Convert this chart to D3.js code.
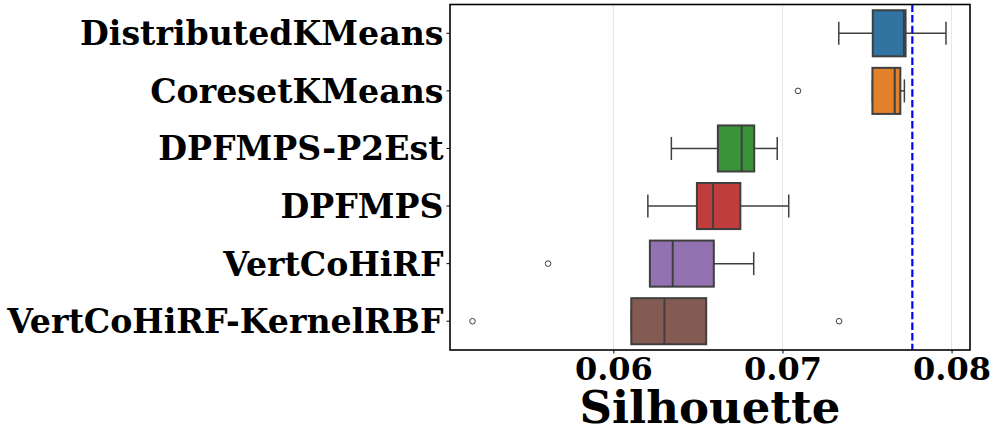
<!DOCTYPE html>
<html>
<head>
<meta charset="utf-8">
<script src="https://cdn.jsdelivr.net/npm/d3@7"></script>
<style>
  html, body { margin: 0; padding: 0; background: #fff; }
  svg { display: block; }
  text { font-family: "DejaVu Serif", serif; font-weight: bold; fill: #000; }
</style>
</head>
<body>
<svg id="chart" width="997" height="438"></svg>
<script>
const categories = ["DistributedKMeans", "CoresetKMeans", "DPFMPS-P2Est", "DPFMPS", "VertCoHiRF", "VertCoHiRF-KernelRBF"];
const whiskerLow  = [0.07333, 0.07532, 0.06343, 0.06204, 0.06216, 0.06106];
const q1          = [0.07534, 0.07532, 0.06618, 0.06494, 0.06216, 0.06106];
const median      = [0.07718, 0.07664, 0.06759, 0.06590, 0.06351, 0.06302];
const q3          = [0.07728, 0.07697, 0.06833, 0.06751, 0.06594, 0.06549];
const whiskerHigh = [0.07967, 0.07721, 0.06969, 0.07037, 0.06830, 0.06549];
const outliers    = [[], [0.07092], [], [], [0.05614], [0.05167, 0.07335]];
const colors      = ["#3274a1", "#e1812c", "#3a923a", "#c03d3e", "#9372b2", "#845b53"];
const xTicks      = [0.06, 0.07, 0.08];
const referenceValue = 0.07768;
const xLabel = "Silhouette";

const svg = d3.select("#chart");
const pL = 450, pR = 970, pT = 4.5, pB = 350;

const x = d3.scaleLinear().domain([0.05034, 0.08109]).range([pL, pR]);
const y = d3.scaleBand().domain(categories).range([pT, pB]).paddingInner(0).paddingOuter(0);
const bw = y.bandwidth() * 0.8;
const lineCol = "#3f3f3f";

// grid
svg.append("g").selectAll("line").data(xTicks).join("line")
  .attr("x1", d => x(d)).attr("x2", d => x(d))
  .attr("y1", pT).attr("y2", pB)
  .attr("stroke", "#e6e6e6").attr("stroke-width", 1);

const data = categories.map((c, i) => ({
  c, i, lo: whiskerLow[i], q1: q1[i], med: median[i], q3: q3[i], hi: whiskerHigh[i], out: outliers[i], col: colors[i]
}));

const g = svg.append("g");
data.forEach(d => {
  const cy = y(d.c) + y.bandwidth() / 2;
  g.append("line").attr("x1", x(d.lo)).attr("x2", x(d.q1)).attr("y1", cy).attr("y2", cy)
    .attr("stroke", lineCol).attr("stroke-width", 1.5);
  g.append("line").attr("x1", x(d.q3)).attr("x2", x(d.hi)).attr("y1", cy).attr("y2", cy)
    .attr("stroke", lineCol).attr("stroke-width", 1.5);
  [d.lo, d.hi].forEach(v => {
    g.append("line").attr("x1", x(v)).attr("x2", x(v)).attr("y1", cy - bw / 4).attr("y2", cy + bw / 4)
      .attr("stroke", lineCol).attr("stroke-width", 1.5);
  });
  g.append("rect").attr("x", x(d.q1)).attr("y", cy - bw / 2)
    .attr("width", x(d.q3) - x(d.q1)).attr("height", bw)
    .attr("fill", d.col).attr("stroke", lineCol).attr("stroke-width", 2);
  g.append("line").attr("x1", x(d.med)).attr("x2", x(d.med)).attr("y1", cy - bw / 2).attr("y2", cy + bw / 2)
    .attr("stroke", lineCol).attr("stroke-width", 2);
  g.selectAll(null).data(d.out).join("circle")
    .attr("cx", v => x(v)).attr("cy", cy).attr("r", 2.8)
    .attr("fill", "none").attr("stroke", lineCol).attr("stroke-width", 1);
});

// reference line
svg.append("line").attr("x1", x(referenceValue)).attr("x2", x(referenceValue))
  .attr("y1", pT).attr("y2", pB)
  .attr("stroke", "#0000ff").attr("stroke-width", 2.2).attr("stroke-dasharray", "7.4,3.2");

// frame
svg.append("rect").attr("x", pL).attr("y", pT).attr("width", pR - pL).attr("height", pB - pT)
  .attr("fill", "none").attr("stroke", "#000").attr("stroke-width", 1.6);

// x axis
const xAxis = svg.append("g").attr("transform", `translate(0,${pB})`)
  .call(d3.axisBottom(x).tickValues(xTicks).tickFormat(d3.format(".2f")).tickSize(3.5).tickPadding(4));
xAxis.select(".domain").remove();
xAxis.selectAll(".tick line").attr("stroke", "#000").attr("stroke-width", 1);
xAxis.selectAll(".tick text").attr("font-family", "DejaVu Serif").attr("font-weight", "bold")
  .attr("font-size", 32).attr("fill", "#000").attr("dy", "0.71em");

// y axis
const yAxis = svg.append("g").attr("transform", `translate(${pL},0)`)
  .call(d3.axisLeft(y).tickSize(3.5).tickPadding(3));
yAxis.select(".domain").remove();
yAxis.selectAll(".tick line").attr("stroke", "#000").attr("stroke-width", 1);
yAxis.selectAll(".tick text").attr("font-family", "DejaVu Serif").attr("font-weight", "bold")
  .attr("font-size", 33.2).attr("fill", "#000").attr("dy", "0.36em");

// x label
svg.append("text").attr("x", (pL + pR) / 2).attr("y", 423)
  .attr("text-anchor", "middle").attr("font-size", 45).text(xLabel);
</script>
</body>
</html>
